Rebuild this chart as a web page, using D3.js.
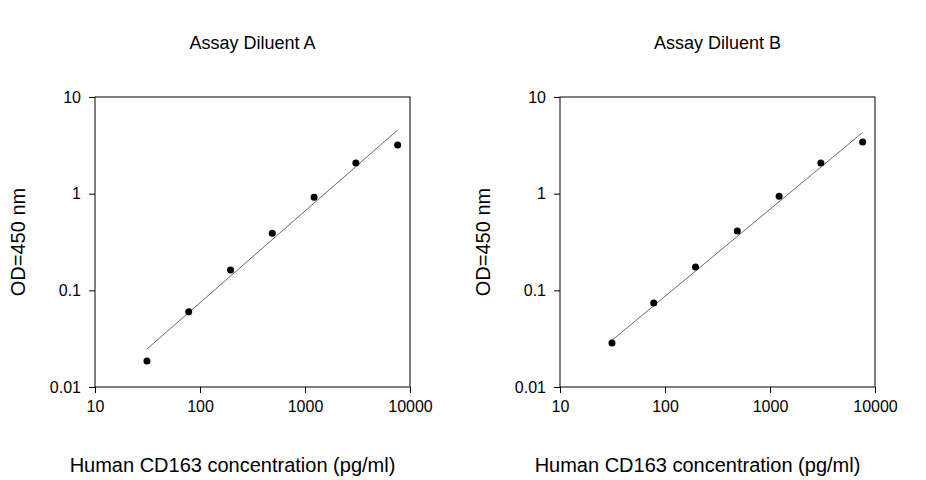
<!DOCTYPE html>
<html><head><meta charset="utf-8">
<script src="https://cdn.jsdelivr.net/npm/d3@7"></script>
<style>body{margin:0;background:#fff}svg{font-family:"Liberation Sans",Arial,sans-serif}</style>
</head><body><svg id="c" width="926" height="480"></svg>
<script>
const conc = [31.25, 78.1, 195.3, 488, 1221, 3052, 7629];
const odA = [0.0186, 0.060, 0.162, 0.39, 0.92, 2.07, 3.18];
const odB = [0.0285, 0.074, 0.174, 0.41, 0.94, 2.07, 3.42];
const fitA = [[31.25, 0.0247], [7629, 4.55]];
const fitB = [[31.25, 0.0304], [7629, 4.3]];
const xTicks = [10, 100, 1000, 10000];
const yTicks = [0.01, 0.1, 1, 10];
const titles = ["Assay Diluent A", "Assay Diluent B"];

const svg = d3.select("#c");
const plotTop = 97, plotBottom = 387, w = 315;

function panel(left, title, od, fit) {
  const x = d3.scaleLog().domain([10, 10000]).range([left, left + w]);
  const y = d3.scaleLog().domain([0.01, 10]).range([plotBottom, plotTop]);
  const g = svg.append("g");
  g.append("rect").attr("x", left).attr("y", plotTop).attr("width", w).attr("height", plotBottom - plotTop)
    .attr("fill", "none").attr("stroke", "#000");
  g.append("g").attr("transform", `translate(0,${plotBottom})`)
    .call(d3.axisBottom(x).tickValues(xTicks).tickFormat(d3.format("d")).tickSizeOuter(0).tickSize(6).tickPadding(8))
    .call(a => a.select(".domain").remove())
    .selectAll("text").attr("font-size", 16).attr("font-family", "Liberation Sans, Arial");
  g.append("g").attr("transform", `translate(${left},0)`)
    .call(d3.axisLeft(y).tickValues(yTicks).tickFormat(d => d >= 1 ? d3.format("d")(d) : String(d)).tickSizeOuter(0).tickSize(6).tickPadding(8))
    .call(a => a.select(".domain").remove())
    .selectAll("text").attr("font-size", 16).attr("font-family", "Liberation Sans, Arial");
  g.append("line").attr("x1", x(fit[0][0])).attr("y1", y(fit[0][1]))
    .attr("x2", x(fit[1][0])).attr("y2", y(fit[1][1])).attr("stroke", "#444").attr("stroke-width", 0.8);
  g.selectAll("circle").data(conc).join("circle")
    .attr("cx", d => x(d)).attr("cy", (d, i) => y(od[i])).attr("r", 3.5).attr("fill", "#000");
  g.append("text").attr("x", left + w / 2).attr("y", 49).attr("text-anchor", "middle")
    .attr("font-size", 18).text(title);
  g.append("text").attr("transform", `translate(${left - 70},${(plotTop + plotBottom) / 2}) rotate(-90)`)
    .attr("text-anchor", "middle").attr("font-size", 20).text("OD=450 nm");
  g.append("text").attr("x", left + w / 2 - 20).attr("y", 472).attr("text-anchor", "middle")
    .attr("font-size", 20).text("Human CD163 concentration (pg/ml)");
}
panel(95, titles[0], odA, fitA);
panel(560, titles[1], odB, fitB);
</script></body></html>
